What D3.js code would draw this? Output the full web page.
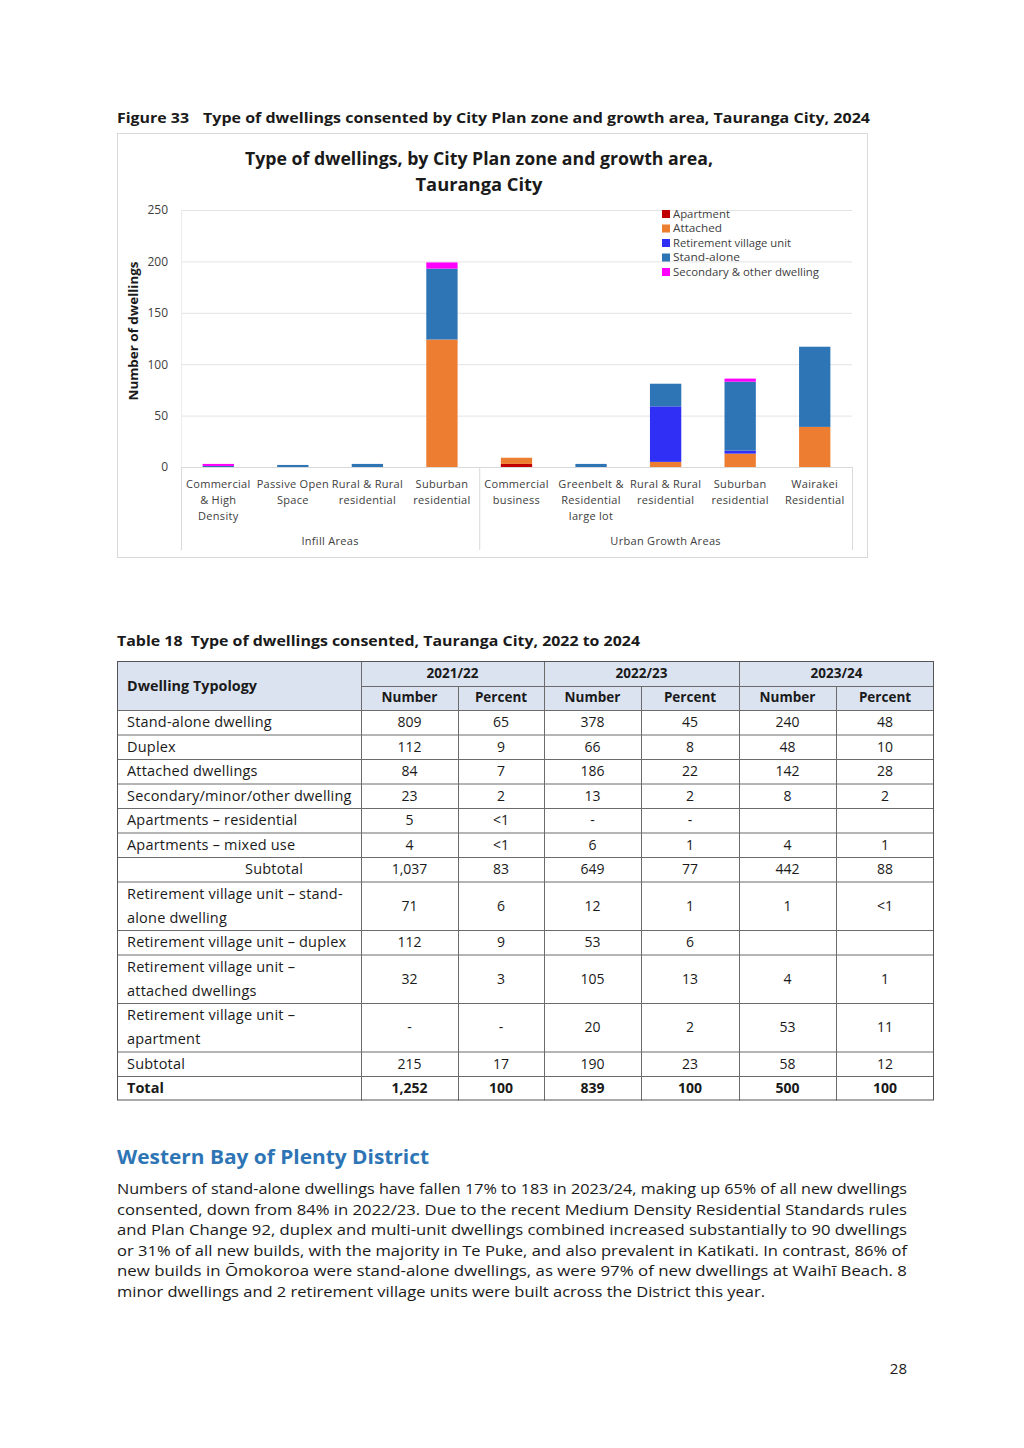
<!DOCTYPE html>
<html><head><meta charset="utf-8">
<script src="https://cdn.jsdelivr.net/npm/d3@7"></script>
<style>
html,body{margin:0;padding:0;background:#fff;}
svg{display:block;font-family:"Open Sans",sans-serif;}
</style></head>
<body>
<svg id="page" width="1024" height="1448"></svg>
<script>
// ---------- DATA ----------
const categories = ["Commercial & High Density","Passive Open Space","Rural & Rural residential","Suburban residential","Commercial business","Greenbelt & Residential large lot","Rural & Rural residential (UGA)","Suburban residential (UGA)","Wairakei Residential"];
const categoryLabelLines = [["Commercial","& High","Density"],["Passive Open","Space"],["Rural & Rural","residential"],["Suburban","residential"],["Commercial","business"],["Greenbelt &","Residential","large lot"],["Rural & Rural","residential"],["Suburban","residential"],["Wairakei","Residential"]];
const groupNames = ["Infill Areas","Urban Growth Areas"];
const groupSizes = [4,5];
const seriesNames = ["Apartment","Attached","Retirement village unit","Stand-alone","Secondary & other dwelling"];
const apartment  = [0,0,0,0,3,0,0,0,0];
const attached   = [0,0,0,124,6,0,5,13,39];
const retirement = [0,0,0,0,0,0,54,3,0];
const standAlone = [1,2,3,69,0,3,22,67,78];
const secondary  = [2,0,0,6,0,0,0,3,0];
const yTicks = [0,50,100,150,200,250];

const tableRowLabels = [["Stand-alone dwelling"],["Duplex"],["Attached dwellings"],["Secondary/minor/other dwelling"],["Apartments – residential"],["Apartments – mixed use"],["Subtotal"],["Retirement village unit – stand-","alone dwelling"],["Retirement village unit – duplex"],["Retirement village unit –","attached dwellings"],["Retirement village unit –","apartment"],["Subtotal"],["Total"]];
const years = ["2021/22","2022/23","2023/24"];
const num2122 = ["809","112","84","23","5","4","1,037","71","112","32","-","215","1,252"];
const pct2122 = ["65","9","7","2","<1","<1","83","6","9","3","-","17","100"];
const num2223 = ["378","66","186","13","-","6","649","12","53","105","20","190","839"];
const pct2223 = ["45","8","22","2","-","1","77","1","6","13","2","23","100"];
const num2324 = ["240","48","142","8","","4","442","1","","4","53","58","500"];
const pct2324 = ["48","10","28","2","","1","88","<1","","1","11","12","100"];

const paragraph = [
 "Numbers of stand-alone dwellings have fallen 17% to 183 in 2023/24, making up 65% of all new dwellings",
 "consented, down from 84% in 2022/23. Due to the recent Medium Density Residential Standards rules",
 "and Plan Change 92, duplex and multi-unit dwellings combined increased substantially to 90 dwellings",
 "or 31% of all new builds, with the majority in Te Puke, and also prevalent in Katikati. In contrast, 86% of",
 "new builds in Ōmokoroa were stand-alone dwellings, as were 97% of new dwellings at Waihī Beach. 8",
 "minor dwellings and 2 retirement village units were built across the District this year."
];

// ---------- HELPERS ----------
const svg = d3.select("#page");
svg.append("rect").attr("width",1024).attr("height",1448).attr("fill","#fff");
function fit(sel, w){
  const n = sel.node();
  const len = n.getComputedTextLength();
  if (Math.abs(len - w) > 1) sel.attr("textLength", w).attr("lengthAdjust","spacingAndGlyphs");
  return sel;
}
const dark = "#1a1a1a";

// ---------- FIGURE HEADING ----------
fit(svg.append("text").attr("x",117).attr("y",123).attr("font-size",15).attr("font-weight",700).attr("fill",dark).text("Figure 33"),72);
fit(svg.append("text").attr("x",203).attr("y",123).attr("font-size",15).attr("font-weight",700).attr("fill",dark)
  .text("Type of dwellings consented by City Plan zone and growth area, Tauranga City, 2024"),667);

// ---------- CHART ----------
svg.append("rect").attr("x",117.5).attr("y",133.5).attr("width",750).attr("height",424)
  .attr("fill","#fff").attr("stroke","#d9d9d9");
fit(svg.append("text").attr("x",479).attr("y",165).attr("text-anchor","middle").attr("font-size",17).attr("font-weight",700).attr("fill",dark)
  .text("Type of dwellings, by City Plan zone and growth area,"),468);
fit(svg.append("text").attr("x",479).attr("y",191).attr("text-anchor","middle").attr("font-size",17).attr("font-weight",700).attr("fill",dark)
  .text("Tauranga City"),127);

const plot = {l:181, r:852, t:210, b:467};
const x = d3.scaleBand().domain(d3.range(categories.length)).range([plot.l, plot.r]).paddingInner(0.58).paddingOuter(0.29);
const xBand = d3.scaleBand().domain(d3.range(categories.length)).range([plot.l, plot.r]);
const y = d3.scaleLinear().domain([0,250]).range([plot.b, plot.t]);

// gridlines
const yAxis = d3.axisLeft(y).tickValues(yTicks).tickSize(-(plot.r-plot.l)).tickPadding(13);
const gy = svg.append("g").attr("transform",`translate(${plot.l},0)`).call(yAxis);
gy.select(".domain").remove();
gy.selectAll(".tick line").attr("stroke","#e3e3e3");
gy.selectAll(".tick text").attr("font-size",12).attr("fill","#404040").attr("font-family","'Open Sans',sans-serif");
gy.selectAll(".tick").filter(d=>d===0).select("line").attr("stroke","#d9d9d9");
svg.append("line").attr("x1",plot.l+0.5).attr("x2",plot.l+0.5).attr("y1",plot.t).attr("y2",plot.b).attr("stroke","#ececec");

// y title
fit(svg.append("text").attr("transform","translate(138,331) rotate(-90)").attr("text-anchor","middle")
  .attr("font-size",13).attr("font-weight",700).attr("fill",dark).text("Number of dwellings"),139);

// stacked bars
const colors = ["#c00000","#ed7d31","#2f2ff5","#2e75b6","#ff00ff"];
const seriesData = [apartment, attached, retirement, standAlone, secondary];
const rows = categories.map((c,i)=>{const o={i}; seriesNames.forEach((s,k)=>o[s]=seriesData[k][i]); return o;});
const stacked = d3.stack().keys(seriesNames)(rows);
svg.append("g").selectAll("g").data(stacked).join("g").attr("fill",(d,k)=>colors[k])
  .selectAll("rect").data(d=>d).join("rect")
  .attr("x",d=>x(d.data.i)).attr("width",x.bandwidth())
  .attr("y",d=>y(d[1])).attr("height",d=>Math.max(0,y(d[0])-y(d[1])));

// multi-level category axis
const axisColor = "#d9d9d9";
let acc = 0;
const boundaries = [0];
groupSizes.forEach(s=>{acc+=s; boundaries.push(acc);});
boundaries.forEach(b=>{
  const xx = b<categories.length ? xBand(b) : plot.r;
  svg.append("line").attr("x1",xx+0.5).attr("x2",xx+0.5).attr("y1",plot.b).attr("y2",550).attr("stroke",axisColor);
});
categoryLabelLines.forEach((lines,i)=>{
  const cx = xBand(i)+xBand.bandwidth()/2;
  lines.forEach((t,j)=>{
    svg.append("text").attr("x",cx).attr("y",488+j*16).attr("text-anchor","middle")
      .attr("font-size",11).attr("letter-spacing",0.3).attr("fill","#404040").text(t);
  });
});
groupNames.forEach((g,k)=>{
  const x0 = xBand(boundaries[k]);
  const x1 = boundaries[k+1]<categories.length ? xBand(boundaries[k+1]) : plot.r;
  svg.append("text").attr("x",(x0+x1)/2).attr("y",545).attr("text-anchor","middle")
    .attr("font-size",11).attr("letter-spacing",0.3).attr("fill","#404040").text(g);
});

// legend
const lg = svg.append("g");
const legendWidths = [57,49,118,67,146];
seriesNames.forEach((s,k)=>{
  const yy = 214 + k*14.5;
  lg.append("rect").attr("x",662).attr("y",yy-4).attr("width",8).attr("height",8).attr("fill",colors[k]);
  fit(lg.append("text").attr("x",673).attr("y",yy+3.8).attr("font-size",11).attr("fill","#404040").text(s), legendWidths[k]);
});

// ---------- TABLE ----------
fit(svg.append("text").attr("x",117).attr("y",646).attr("font-size",15).attr("font-weight",700).attr("fill",dark)
  .text("Table 18\u00a0\u00a0Type of dwellings consented, Tauranga City, 2022 to 2024"),523);

const colX = [117,361,458,544,641,739,836,934];
const headTop = 661, headMid = 686, bodyTop = 710;
const rowH = 24.5;
const rowHeights = tableRowLabels.map(l=>l.length*rowH - (l.length>1?0.5:0));
const rowTops = [];
let yy = bodyTop;
rowHeights.forEach(h=>{rowTops.push(yy); yy+=h;});
const tableBottom = yy;
const headFill = "#dbe3f1";
const t = svg.append("g");
t.append("rect").attr("x",colX[0]).attr("y",headTop).attr("width",colX[7]-colX[0]).attr("height",bodyTop-headTop).attr("fill",headFill);
// header text
fit(t.append("text").attr("x",127).attr("y",691).attr("font-size",14).attr("font-weight",700).attr("fill",dark).text("Dwelling Typology"),130);
years.forEach((yr,k)=>{
  const c0 = colX[1+2*k], c1 = colX[3+2*k];
  t.append("text").attr("x",(c0+c1)/2).attr("y",678).attr("text-anchor","middle").attr("font-size",13.5).attr("font-weight",700).attr("fill",dark).text(yr);
  ["Number","Percent"].forEach((h,j)=>{
    t.append("text").attr("x",(colX[1+2*k+j]+colX[2+2*k+j])/2).attr("y",702).attr("text-anchor","middle")
      .attr("font-size",13.5).attr("font-weight",700).attr("fill",dark).text(h);
  });
});
// body
const cols = [num2122,pct2122,num2223,pct2223,num2324,pct2324];
tableRowLabels.forEach((lines,r)=>{
  const top = rowTops[r], h = rowHeights[r];
  const bold = r===tableRowLabels.length-1;
  lines.forEach((ln,j)=>{
    const tx = t.append("text").attr("y",top+17+j*24).attr("font-size",14.5).attr("letter-spacing",bold?0:0.2).attr("fill",dark)
      .attr("font-weight",bold?700:400).text(ln);
    if (r===6) tx.attr("x",245); else tx.attr("x",127);
  });
  cols.forEach((col,c)=>{
    t.append("text").attr("x",(colX[c+1]+colX[c+2])/2).attr("y",top+h/2+5).attr("text-anchor","middle")
      .attr("font-size",14).attr("font-weight",bold?700:400).attr("fill",dark).text(col[r]);
  });
});
// grid lines
const lineColor = "#6b6b6b";
const hLines = [headMid, bodyTop, ...rowTops.slice(1)];
hLines.forEach((hy,k)=>{
  const x0 = hy===headMid ? colX[1] : colX[0];
  t.append("line").attr("x1",x0).attr("x2",colX[7]).attr("y1",hy+0.5).attr("y2",hy+0.5).attr("stroke",lineColor);
});
colX.slice(1,7).forEach((cx,k)=>{
  const y0 = (k%2===1) ? headMid : headTop;
  t.append("line").attr("x1",cx+0.5).attr("x2",cx+0.5).attr("y1",y0).attr("y2",tableBottom).attr("stroke",lineColor);
});
t.append("rect").attr("x",colX[0]+0.5).attr("y",headTop+0.5).attr("width",colX[7]-colX[0]-1).attr("height",tableBottom-headTop-1)
  .attr("fill","none").attr("stroke","#555");

// ---------- TEXT SECTION ----------
fit(svg.append("text").attr("x",117).attr("y",1164).attr("font-size",20).attr("font-weight",700).attr("fill","#2e75b6")
  .text("Western Bay of Plenty District"),312);
paragraph.forEach((ln,i)=>{
  const tx = svg.append("text").attr("x",117).attr("y",1194+i*20.6).attr("font-size",15).attr("fill",dark).text(ln);
  fit(tx, i<paragraph.length-1 ? 790 : 648);
});
svg.append("text").attr("x",907).attr("y",1374).attr("text-anchor","end").attr("font-size",15).attr("fill",dark).text("28");
</script>
</body></html>
